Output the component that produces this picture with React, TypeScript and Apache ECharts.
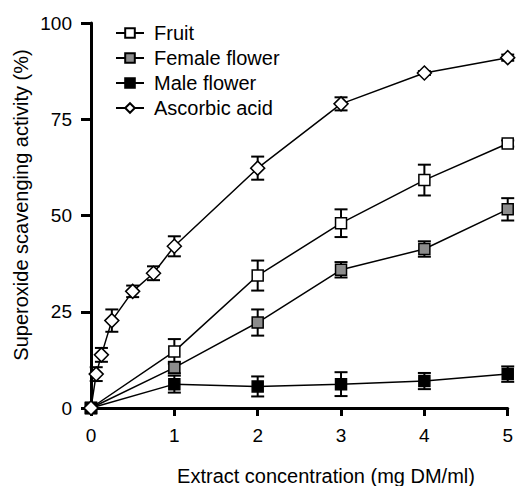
import React, { useEffect, useRef } from "react";
import * as echarts from "echarts";

const seriesNames = ["Fruit", "Female flower", "Male flower", "Ascorbic acid"];

const concX = [0, 1, 2, 3, 4, 5];
const fruitY = [0, 14.7, 34.4, 48.0, 59.2, 68.7];
const fruitErr = [0, 3.2, 3.9, 3.6, 4.0, 0.8];
const femaleY = [0, 10.5, 22.2, 35.9, 41.3, 51.6];
const femaleErr = [0, 1.5, 3.4, 2.0, 2.0, 2.9];
const maleY = [0, 6.2, 5.6, 6.2, 7.0, 8.8];
const maleErr = [0, 2.2, 2.6, 3.1, 2.1, 2.0];

const ascorbicX = [0, 0.0625, 0.125, 0.25, 0.5, 0.75, 1, 2, 3, 4, 5];
const ascorbicY = [0, 8.8, 13.8, 22.7, 30.3, 35.0, 42.0, 62.3, 79.0, 87.0, 91.0];
const ascorbicErr = [0, 1.8, 1.8, 2.9, 1.5, 1.8, 2.6, 3.0, 1.7, 0.5, 0.8];

const xTicks = [0, 1, 2, 3, 4, 5];
const yTicks = [0, 25, 50, 75, 100];

const xTitle = "Extract concentration (mg DM/ml)";
const yTitle = "Superoxide scavenging activity (%)";

const FONT = "Liberation Sans, Arial, sans-serif";

function pairs(xs: number[], ys: number[]) {
  return xs.map((x, i) => [x, ys[i]]);
}
function triples(xs: number[], ys: number[], es: number[]) {
  return xs.map((x, i) => [x, ys[i], es[i]]);
}

function errorSeries(name: string, data: number[][]) {
  return {
    type: "custom",
    name: name + " err",
    z: 1,
    silent: true,
    clip: false,
    data,
    encode: { x: 0, y: 1 },
    renderItem: (params: any, api: any) => {
      const x = api.value(0);
      const y = api.value(1);
      const e = api.value(2);
      if (!e) return { type: "group", children: [] };
      const top = api.coord([x, y + e]);
      const bot = api.coord([x, y - e]);
      const half = 6.5;
      const style = { stroke: "#000", lineWidth: 2 };
      return {
        type: "group",
        children: [
          { type: "line", shape: { x1: top[0], y1: top[1], x2: bot[0], y2: bot[1] }, style },
          { type: "line", shape: { x1: top[0] - half, y1: top[1], x2: top[0] + half, y2: top[1] }, style },
          { type: "line", shape: { x1: bot[0] - half, y1: bot[1], x2: bot[0] + half, y2: bot[1] }, style },
        ],
      };
    },
  };
}

function lineSeries(name: string, data: number[][], symbol: string, size: number, fill: string) {
  return {
    type: "line",
    name,
    data,
    z: 3,
    clip: false,
    symbol,
    symbolSize: size,
    showAllSymbol: true,
    lineStyle: { color: "#000", width: 1.5 },
    itemStyle: { color: fill, borderColor: "#000", borderWidth: 1.5 },
    emphasis: { disabled: true },
  };
}

export default function App() {
  const ref = useRef<HTMLDivElement>(null);
  useEffect(() => {
    if (!ref.current) return;
    const chart = echarts.init(ref.current, undefined, { renderer: "svg" });
    chart.setOption({
      animation: false,
      backgroundColor: "#fff",
      grid: { left: 91, right: 7, top: 23, bottom: 78, containLabel: false },
      xAxis: {
        type: "value",
        min: 0,
        max: 5,
        interval: 1,
        splitLine: { show: false },
        axisLine: { show: true, onZero: false, lineStyle: { color: "#000", width: 3 } },
        axisTick: { show: true, length: 8, lineStyle: { color: "#000", width: 3 } },
        axisLabel: {
          margin: 18,
          color: "#000",
          fontSize: 19,
          fontFamily: FONT,
          formatter: (v: number) => (xTicks.includes(v) ? String(v) : ""),
        },
      },
      yAxis: {
        type: "value",
        min: 0,
        max: 100,
        interval: 25,
        splitLine: { show: false },
        axisLine: { show: true, lineStyle: { color: "#000", width: 3 } },
        axisTick: { show: true, length: 10, lineStyle: { color: "#000", width: 3 } },
        axisLabel: {
          margin: 19,
          color: "#000",
          fontSize: 19,
          fontFamily: FONT,
          formatter: (v: number) => (yTicks.includes(v) ? String(v) : ""),
        },
      },
      legend: {
        data: seriesNames,
        orient: "vertical",
        left: 110,
        top: 18,
        itemWidth: 28,
        itemHeight: 12,
        itemGap: 5,
        selectedMode: false,
        textStyle: { color: "#000", fontSize: 20, fontFamily: FONT, padding: [0, 0, 0, 5], lineHeight: 20 },
      },
      graphic: [
        {
          type: "text",
          x: 21,
          y: 205,
          rotation: Math.PI / 2,
          style: {
            text: yTitle,
            fill: "#000",
            fontSize: 20,
            fontFamily: FONT,
            align: "center",
            verticalAlign: "middle",
          },
        },
        {
          type: "text",
          x: 326,
          y: 476,
          style: {
            text: xTitle,
            fill: "#000",
            fontSize: 20,
            fontFamily: FONT,
            align: "center",
            verticalAlign: "middle",
          },
        },
      ],
      series: [
        errorSeries("Fruit", triples(concX, fruitY, fruitErr)),
        errorSeries("Female flower", triples(concX, femaleY, femaleErr)),
        errorSeries("Male flower", triples(concX, maleY, maleErr)),
        errorSeries("Ascorbic acid", triples(ascorbicX, ascorbicY, ascorbicErr)),
        lineSeries("Fruit", pairs(concX, fruitY), "rect", 11, "#fff"),
        lineSeries("Female flower", pairs(concX, femaleY), "rect", 11, "#8c8c8c"),
        lineSeries("Male flower", pairs(concX, maleY), "rect", 11, "#000"),
        lineSeries("Ascorbic acid", pairs(ascorbicX, ascorbicY), "diamond", 14, "#fff"),
      ],
    });
    return () => chart.dispose();
  }, []);
  return <div ref={ref} style={{ width: 516, height: 486, position: "absolute", left: 0, top: 0 }} />;
}
